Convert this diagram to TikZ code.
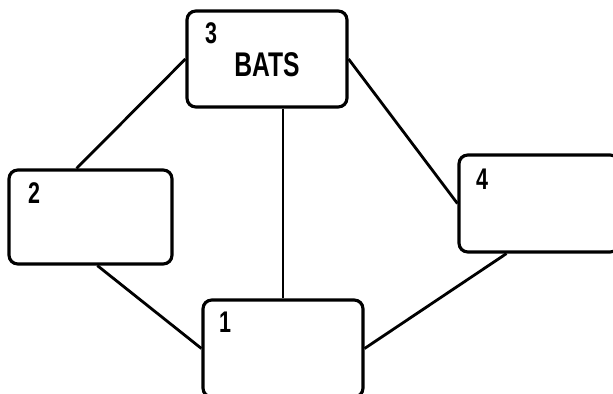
\documentclass[tikz,border=0pt]{standalone}
\usepackage{fontspec}
\setmainfont{Liberation Sans}[FakeStretch=0.72]
\usetikzlibrary{positioning}
\tikzset{
  box/.style={draw, line width=1.8pt, rounded corners=5pt, minimum width=3.2cm, minimum height=1.92cm, inner sep=0pt},
  num/.style={font=\fontsize{17}{17}\selectfont\bfseries, inner sep=0pt},
  word/.style={font=\fontsize{19.5}{19.5}\selectfont\bfseries, inner sep=0pt},
  link/.style={line width=1.6pt}
}
\begin{document}
\begin{tikzpicture}[x=0.02cm,y=-0.02cm]
\clip (0,0) rectangle (613,394);
%bokse
\node[box] (b3) at (267,59) {};
\node[box, minimum width=3.26cm, minimum height=1.88cm] (b2) at (90.5,217) {};
\node[box, minimum height=1.94cm] (b4) at (539,203.5) {};
\node[box, minimum height=1.94cm] (b1) at (283,348.5) {};
%tekst
\node[num] (n3) at (211,33) {3};
\node[word] (bats) at (267,65) {BATS};
\node[num] (n2) at (34,193) {2};
\node[num] (n4) at (482,179) {4};
\node[num] (n1) at (225,322) {1};
%linjer
\draw[link] (b3.west)--(b2.106);
\draw[link] (b2.278)--(b1.west);
\draw[link] (b3.east)--(b4.west);
\draw[link] (b4.237)--(b1.east);
\draw[line width=1.1pt] (b1.north)--(b1.north |- b3.south);
\end{tikzpicture}
\end{document}
